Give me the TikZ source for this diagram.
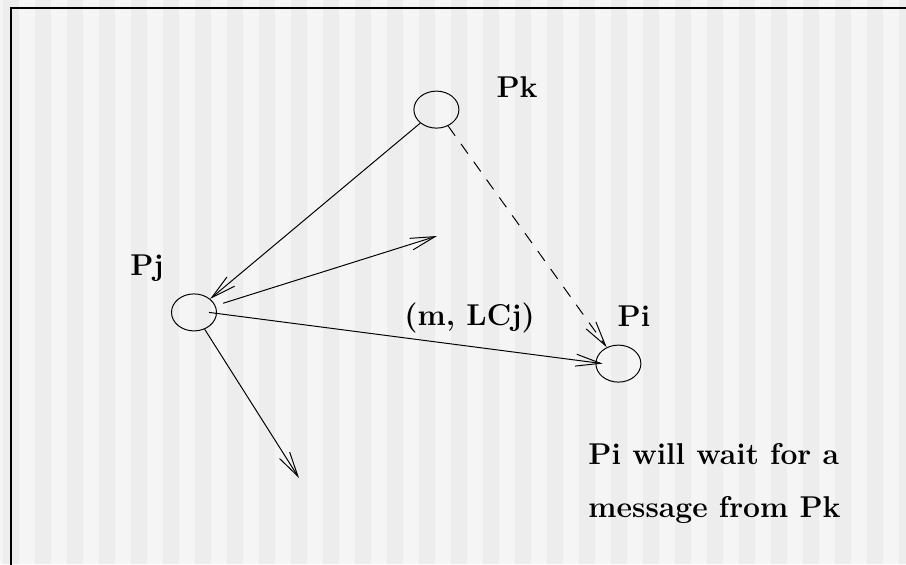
\documentclass[tikz,border=0pt]{standalone}
\usepackage{tikz}
\usetikzlibrary{shapes.geometric, positioning, arrows.meta, calc}
\definecolor{stripelight}{RGB}{245,245,245}
\definecolor{stripedark}{RGB}{237,237,237}
\begin{document}
\begin{tikzpicture}[
    line width=0.7pt,
    process/.style={draw, ellipse, minimum width=1.125cm, minimum height=0.925cm, inner sep=0pt},
    tag/.style={font=\fontsize{21.4}{37}\selectfont\bfseries, inner sep=0pt, anchor=base},
    message/.style={-{Straight Barb[length=0.62cm, width=0.3cm]}},
    ghost/.style={message, dash pattern=on 0.3cm off 0.25cm}
]

    % ================= BACKGROUND =================
    \useasboundingbox (0,0) rectangle (22.65,-14.1);
    \clip (0,0) rectangle (22.65,-14.1);
    \fill[stripelight] (0,0) rectangle (22.65,-14.1);
    \foreach \i in {0,...,28}
        \fill[stripedark] (0.075+0.8*\i,0) rectangle ++(0.4,-14.1);
    \draw[line width=1.3pt] (0.275,-14.3) |- (22.9,-0.19);

    % ================= PROCESSES =================
    \node[process] (PK) at (10.91,-2.74) {};
    \node[process] (PJ) at (4.85,-7.81) {};
    \node[process] (PI) at (15.46,-9.09) {};

    \node[tag] (PKL) at (12.925,-2.425) {Pk};
    \node[tag] (PJL) at (3.675,-6.875) {Pj};
    \node[tag] (PIL) at (15.85,-8.15) {Pi};

    % ================= MESSAGES =================
    \coordinate (OUT1) at (10.925,-5.9);
    \coordinate (OUT2) at (7.475,-11.95);

    \draw[message] (PK) -- (PJ);
    \draw[message, shorten <=0.2cm] (PJ) -- (OUT1);
    \draw[message] ([xshift=-0.2cm]PJ.east) -- ([xshift=0.18cm]PI.west);
    \draw[message] (PJ) -- (OUT2);
    \draw[ghost] (PK) -- (PI);

    \node[tag] (MSG) at (11.74,-8.125) {(m, LCj)};

    % ================= NOTE =================
    \node[tag, anchor=base west, align=left] (NOTE) at (14.7,-12.925) {Pi will wait for a\\message from Pk};

\end{tikzpicture}
\end{document}
